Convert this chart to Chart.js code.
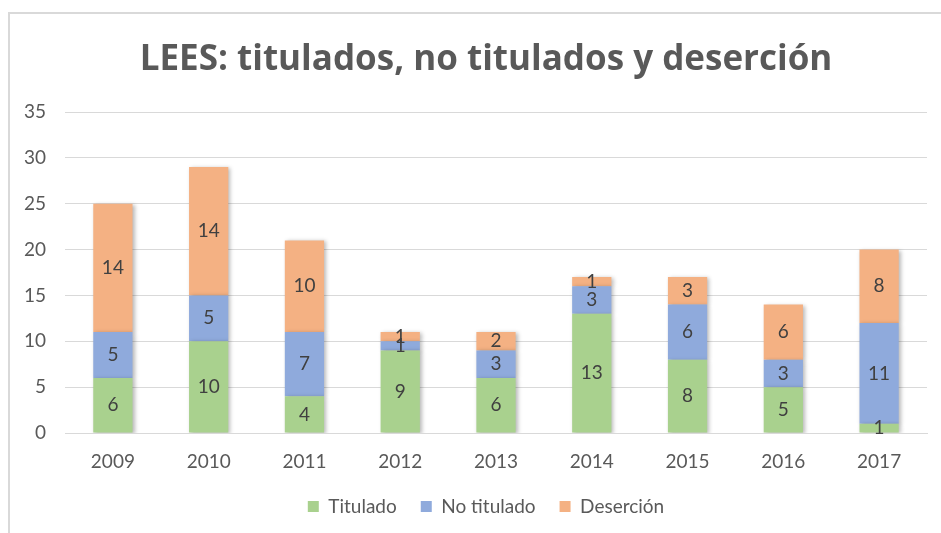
<!DOCTYPE html>
<html>
<head>
<meta charset="utf-8">
<script src="https://cdn.jsdelivr.net/npm/chart.js@4.4.1/dist/chart.umd.min.js"></script>
<style>
  html, body { margin: 0; padding: 0; background: #fff; }
  #wrap { position: relative; width: 941px; height: 533px; }
  #frame { position: absolute; left: 8px; top: 12px; right: -4px; bottom: -4px; border: 2px solid #d9d9d9; }
</style>
</head>
<body>
<div id="wrap">
  <div id="frame"></div>
  <canvas id="chart" width="941" height="533"></canvas>
</div>
<script>
const years = ['2009', '2010', '2011', '2012', '2013', '2014', '2015', '2016', '2017'];
const titulado = [6, 10, 4, 9, 6, 13, 8, 5, 1];
const noTitulado = [5, 5, 7, 1, 3, 3, 6, 3, 11];
const desercion = [14, 14, 10, 1, 2, 1, 3, 6, 8];
const yTicks = [0, 5, 10, 15, 20, 25, 30, 35];

const FONT = 'Lato, "Open Sans", sans-serif';
const TXT = '#595959';

// values written in the middle of each segment
const segLabels = {
  id: 'segLabels',
  afterDatasetsDraw(chart) {
    const ctx = chart.ctx;
    ctx.save();
    ctx.font = '19px ' + FONT;
    ctx.fillStyle = '#404040';
    ctx.textAlign = 'center';
    ctx.textBaseline = 'middle';
    chart.data.datasets.forEach((ds, i) => {
      chart.getDatasetMeta(i).data.forEach((bar, j) => {
        const y = (bar.y + bar.base) / 2;
        ctx.fillText(ds.data[j], bar.x, y);
      });
    });
    ctx.restore();
  }
};

// soft shadow behind the bars
const barShadow = {
  id: 'barShadow',
  beforeDatasetsDraw(chart) {
    const ctx = chart.ctx;
    ctx.save();
    ctx.shadowColor = 'rgba(0,0,0,0.28)';
    ctx.shadowBlur = 4;
    ctx.shadowOffsetX = 2;
    ctx.shadowOffsetY = 1;
  },
  afterDatasetsDraw(chart) {
    chart.ctx.restore();
  }
};

new Chart(document.getElementById('chart'), {
  type: 'bar',
  data: {
    labels: years,
    datasets: [
      { label: 'Titulado', data: titulado, backgroundColor: '#a9d18e' },
      { label: 'No titulado', data: noTitulado, backgroundColor: '#8faadc' },
      { label: 'Deserción', data: desercion, backgroundColor: '#f4b183' }
    ]
  },
  options: {
    responsive: false,
    animation: false,
    layout: { padding: { left: 45, right: 14, top: 0, bottom: 7 } },
    datasets: { bar: { categoryPercentage: 1, barPercentage: 0.41 } },
    scales: {
      x: {
        stacked: true,
        grid: { display: false },
        border: { color: '#d9d9d9', width: 1 },
        ticks: { color: TXT, font: { family: FONT, size: 19 }, padding: 9 },
        afterFit: s => { s.height = 40; }
      },
      y: {
        stacked: true,
        min: 0, max: 35,
        afterBuildTicks: s => { s.ticks = yTicks.map(v => ({ value: v })); },
        grid: { color: '#d9d9d9', drawTicks: false },
        border: { display: false },
        // mirrored so the labels are not clipped to the narrow axis box
        ticks: { color: TXT, font: { family: FONT, size: 19 }, mirror: true, crossAlign: 'far', padding: -41 },
        afterFit: s => { s.width = 20; }
      }
    },
    plugins: {
      title: {
        display: true,
        text: 'LEES: titulados, no titulados y deserción',
        color: TXT,
        font: { family: '"Open Sans", Lato, sans-serif', size: 35, weight: 'bold' },
        padding: { top: 39, bottom: 31 }
      },
      legend: {
        position: 'bottom',
        labels: {
          color: TXT,
          font: { family: FONT, size: 19 },
          boxWidth: 11, boxHeight: 11,
          padding: 24
        }
      },
      tooltip: { enabled: false }
    }
  },
  plugins: [barShadow, segLabels]
});
</script>
</body>
</html>
